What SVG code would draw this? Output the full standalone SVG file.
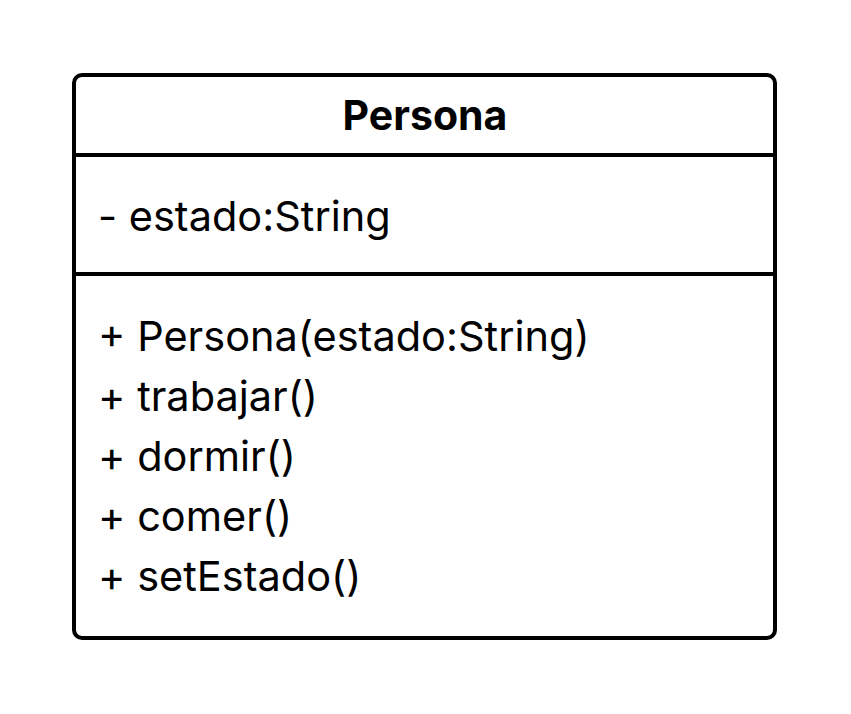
<svg xmlns="http://www.w3.org/2000/svg" width="851" height="714" viewBox="0 0 851 714">
<style>
.box{fill:#ffffff;stroke:#000000;stroke-width:4}
.div{stroke:#000000;stroke-width:4}
.t{font-family:Inter,"Liberation Sans",sans-serif;font-size:41.5px;fill:#000000}
.title{font-family:Inter,"Liberation Sans",sans-serif;font-size:41px;font-weight:bold;fill:#000000;text-anchor:middle}
</style>
<rect width="851" height="714" fill="#ffffff"/>
<g id="Persona">
<rect class="box" x="74" y="75" width="701" height="563" rx="8" ry="8"/>
<line class="div" x1="74" y1="155" x2="775" y2="155"/>
<line class="div" x1="74" y1="274" x2="775" y2="274"/>
<text class="title" x="425" y="130">Persona</text>
<text class="t" x="98" y="231">- estado:String</text>
<text class="t" x="98" y="351">+ Persona(estado:String)</text>
<text class="t" x="98" y="411">+ trabajar()</text>
<text class="t" x="98" y="471">+ dormir()</text>
<text class="t" x="98" y="531">+ comer()</text>
<text class="t" x="98" y="591">+ setEstado()</text>
</g>
<g id="connectors"/>
</svg>
